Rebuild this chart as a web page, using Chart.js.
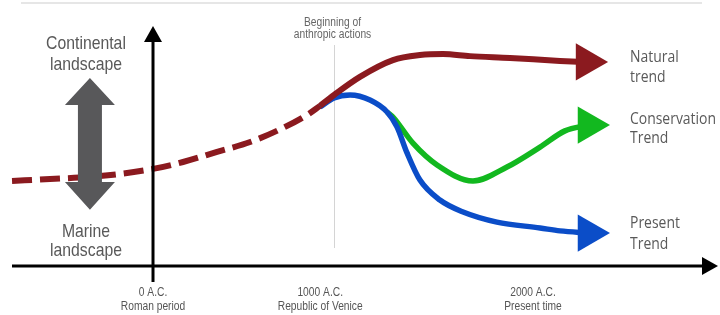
<!DOCTYPE html>
<html><head><meta charset="utf-8">
<script src="https://cdn.jsdelivr.net/npm/chart.js@4.4.1/dist/chart.umd.min.js"></script>
<style>html,body{margin:0;padding:0;background:#fff}</style>
</head><body>
<canvas id="c" width="720" height="315"></canvas>
<script>
// ---- data (x: timeline position in years, y: landscape index 0 = marine .. 100 = continental)
const naturalPastX   = [-742, -542, -279, 0, 158, 337, 511, 684, 811, 879];
const naturalPastY   = [32.0, 32.7, 33.8, 36.5, 39.1, 42.9, 46.6, 51.9, 56.8, 60.2];
const naturalX       = [879, 953, 1089, 1263, 1405, 1526, 1668, 1879, 2142, 2282];
const naturalY       = [60.2, 64.3, 71.1, 77.4, 79.3, 79.7, 78.9, 78.2, 77.1, 76.7];
const presentX       = [879, 953, 1037, 1142, 1232, 1284, 1337, 1405, 1510, 1632, 1810, 2037, 2142, 2292];
const presentY       = [59.8, 63.2, 64.3, 62.4, 57.9, 52.3, 42.5, 32.3, 24.8, 20.3, 16.5, 14.3, 13.2, 12.4];
const conservationX  = [1232, 1263, 1368, 1495, 1684, 1863, 2037, 2168, 2292];
const conservationY  = [57.9, 56.0, 46.2, 38.0, 32.0, 37.2, 44.7, 50.8, 53.0];
const tickValues     = [0, 880, 2000];
const tickLabels     = [["0 A.C.", "Roman period"], ["1000 A.C.", "Republic of Venice"], ["2000 A.C.", "Present time"]];
const anthropicX     = 953;
const seriesNames    = [["Natural", "trend"], ["Conservation", "Trend"], ["Present", "Trend"]];

const RED = '#8B1A1F', BLUE = '#0B4DC8', GREEN = '#12B81F';
const pts = (xs, ys) => xs.map((x, i) => ({x, y: ys[i]}));
const arrowRadius = ctx => ctx.dataIndex === ctx.dataset.data.length - 1 ? 21.5 : 0;

function solid(label, xs, ys, color, w) {
  return {
    label, data: pts(xs, ys), borderColor: color, backgroundColor: color, borderWidth: w,
    cubicInterpolationMode: 'monotone', pointStyle: 'triangle', pointRotation: 90,
    pointRadius: arrowRadius, pointHoverRadius: arrowRadius, pointBackgroundColor: color,
    pointBorderWidth: 0, borderCapStyle: 'butt', borderJoinStyle: 'round', clip: false
  };
}

function txt(ctx, s, x, y, font, color, align, sx) {
  ctx.save(); ctx.translate(x, y); ctx.scale(sx, 1);
  ctx.font = font; ctx.fillStyle = color; ctx.textAlign = align; ctx.textBaseline = 'alphabetic';
  ctx.fillText(s, 0, 0); ctx.restore();
}

const deco = {
  id: 'deco',
  beforeDatasetsDraw(chart) {
    const {ctx, scales: {x, y}} = chart;
    ctx.save();
    ctx.strokeStyle = '#e6e6e6'; ctx.lineWidth = 2;
    ctx.beginPath(); ctx.moveTo(21, 3); ctx.lineTo(702, 3); ctx.stroke();
    const ax = Math.round(x.getPixelForValue(anthropicX)) + 0.5;
    ctx.strokeStyle = '#d4d4d4'; ctx.lineWidth = 1;
    ctx.beginPath(); ctx.moveTo(ax, 45); ctx.lineTo(ax, 248); ctx.stroke();
    ctx.restore();
    const f = "12.5px 'Liberation Sans', Arial, sans-serif";
    txt(ctx, 'Beginning of', ax - 2, 25.5, f, '#666', 'center', 0.82);
    txt(ctx, 'anthropic actions', ax - 2, 37.5, f, '#666', 'center', 0.82);
  },
  afterDatasetsDraw(chart) {
    const {ctx, scales: {x, y}} = chart;
    const x0 = x.getPixelForValue(0), y0 = y.getPixelForValue(0);
    ctx.save();
    // grey double arrow
    const gx = x.getPixelForValue(-332);
    const t1 = y.getPixelForValue(70.7), b1 = y.getPixelForValue(60.5);
    const b2 = y.getPixelForValue(31.6), t2 = y.getPixelForValue(21.1);
    ctx.fillStyle = '#58585A';
    ctx.beginPath();
    ctx.moveTo(gx, t1); ctx.lineTo(gx + 25, b1); ctx.lineTo(gx + 12, b1); ctx.lineTo(gx + 12, b2);
    ctx.lineTo(gx + 25, b2); ctx.lineTo(gx, t2); ctx.lineTo(gx - 25, b2); ctx.lineTo(gx - 12, b2);
    ctx.lineTo(gx - 12, b1); ctx.lineTo(gx - 25, b1); ctx.closePath(); ctx.fill();
    // axes
    ctx.strokeStyle = '#000'; ctx.fillStyle = '#000'; ctx.lineWidth = 3;
    ctx.beginPath(); ctx.moveTo(x0, y0 + 16); ctx.lineTo(x0, 40); ctx.stroke();
    ctx.beginPath(); ctx.moveTo(x0, 26); ctx.lineTo(x0 + 9, 42); ctx.lineTo(x0 - 9, 42); ctx.closePath(); ctx.fill();
    ctx.beginPath(); ctx.moveTo(12, y0); ctx.lineTo(704, y0); ctx.stroke();
    ctx.beginPath(); ctx.moveTo(718, y0); ctx.lineTo(702, y0 - 9); ctx.lineTo(702, y0 + 9); ctx.closePath(); ctx.fill();
    ctx.restore();
    // tick labels from the x scale's ticks
    const ft = "12.5px 'Liberation Sans', Arial, sans-serif";
    x.ticks.forEach((t, i) => {
      const px = x.getPixelForValue(t.value);
      const lab = tickLabels[tickValues.indexOf(t.value)] || [];
      lab.forEach((line, j) => txt(ctx, line, px, y0 + 29.5 + j * 14, ft, '#555', 'center', 0.82));
    });
    // side labels
    const fl = "19px 'Liberation Sans', Arial, sans-serif";
    txt(ctx, 'Continental', 86, 49, fl, '#595959', 'center', 0.83);
    txt(ctx, 'landscape', 86, 70, fl, '#595959', 'center', 0.83);
    txt(ctx, 'Marine', 86, 237, fl, '#595959', 'center', 0.83);
    txt(ctx, 'landscape', 86, 256, fl, '#595959', 'center', 0.83);
    const fr = "17px 'Open Sans', sans-serif";
    const rows = [[62, 82], [124, 143], [228, 249]];
    seriesNames.forEach((n, i) => {
      txt(ctx, n[0], 630, rows[i][0], fr, '#595959', 'left', 0.82);
      txt(ctx, n[1], 630, rows[i][1], fr, '#595959', 'left', 0.82);
    });
  }
};

new Chart(document.getElementById('c'), {
  type: 'line',
  data: {
    datasets: [
      solid('Natural trend', naturalX, naturalY, RED, 6),
      Object.assign(solid('Natural (past)', naturalPastX, naturalPastY, RED, 6),
        {borderDash: [20, 8], pointRadius: 0, pointHoverRadius: 0}),
      solid('Present Trend', presentX, presentY, BLUE, 5.5),
      solid('Conservation Trend', conservationX, conservationY, GREEN, 5.5)
    ]
  },
  options: {
    responsive: false, devicePixelRatio: 1, animation: false, events: [],
    layout: {padding: 0, autoPadding: false},
    plugins: {legend: {display: false}, tooltip: {enabled: false}},
    scales: {
      x: {
        type: 'linear', min: -805.3, max: 2984.2,
        grid: {display: false, drawTicks: false}, border: {display: false},
        afterBuildTicks: s => { s.ticks = tickValues.map(v => ({value: v})); },
        afterFit: s => { s.height = 49; },
        ticks: {display: false}
      },
      y: {type: 'linear', min: 0, max: 100, display: false}
    }
  },
  plugins: [deco]
});
</script>
</body></html>
